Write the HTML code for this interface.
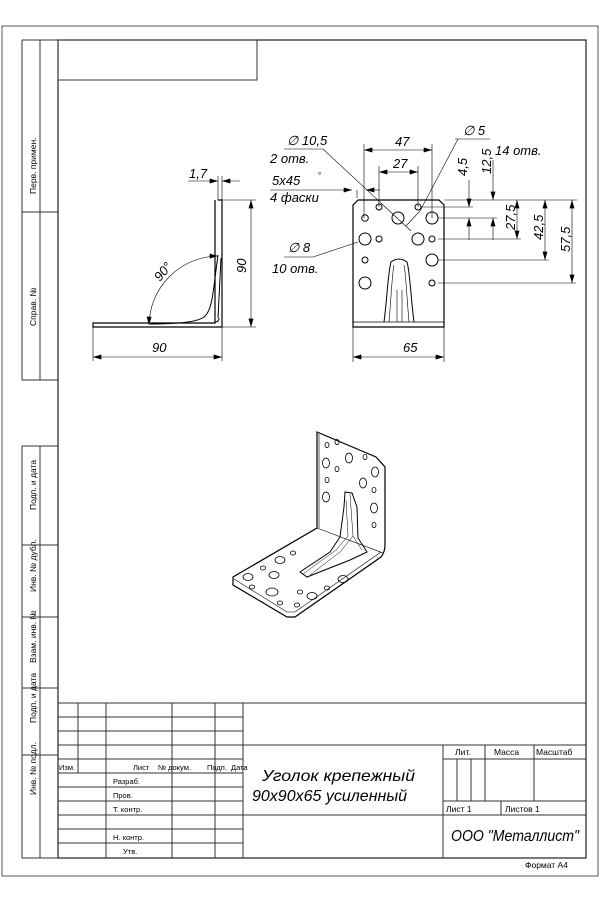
<!DOCTYPE html>
<html><head><meta charset="utf-8"><style>
html,body{margin:0;padding:0;background:#fff;width:600px;height:900px;overflow:hidden}
svg{display:block}
text{font-family:"Liberation Sans",sans-serif;fill:#000}
.d{font-style:italic;font-size:13px}
.s{font-size:7.5px}
.r{font-size:8.5px;fill:#222}
</style></head><body>
<svg width="600" height="900" viewBox="0 0 600 900" xmlns="http://www.w3.org/2000/svg">
<defs>
<marker id="a" viewBox="0 0 10 6" refX="10" refY="3" markerWidth="9" markerHeight="5" orient="auto-start-reverse" markerUnits="userSpaceOnUse"><path d="M0,0 L10,3 L0,6z" fill="#000"/></marker>
</defs>
<g fill="none" stroke="#333" stroke-width="1">
<rect x="2" y="26" width="596" height="850" stroke="#555"/>
<rect x="58" y="40" width="528" height="818" stroke-width="1.2" stroke="#222"/>
<rect x="58" y="40" width="199" height="40"/>
<path d="M22,40 V380 H58 M40,40 V380 M22,212 H58 M22,40 H58"/>
<path d="M22,446 V858 H58 M40,446 V858 M22,446 H58 M22,545 H58 M22,617 H58 M22,688 H58 M22,755 H58"/>
<path d="M58,703 H586 M58,717 H243 M58,731 H243 M58,745 H586 M58,759 H243 M58,773 H243 M58,787 H243 M58,801 H243 M58,815 H586 M58,829 H243 M58,843 H243"/>
<path d="M78,703 V773 M106,703 V858 M172,703 V858 M215,703 V858 M243,703 V858"/>
<path d="M443,745 V858 M443,759 H586 M443,801 H586 M485,745 V801 M534,745 V801 M457,759 V801 M471,759 V801 M501,801 V815"/>
</g>
<g class="r">
<text transform="translate(36,194) rotate(-90)">Перв. примен.</text>
<text transform="translate(36,326) rotate(-90)">Справ. №</text>
<text transform="translate(36,510) rotate(-90)">Подп. и дата</text>
<text transform="translate(36,592) rotate(-90)">Инв. № дубл.</text>
<text transform="translate(36,663) rotate(-90)">Взам. инв. №</text>
<text transform="translate(36,723) rotate(-90)">Подп. и дата</text>
<text transform="translate(36,795) rotate(-90)">Инв. № подл.</text>
</g>
<g class="s">
<text x="59" y="770">Изм.</text>
<text x="133" y="770">Лист</text>
<text x="158" y="770">№ докум.</text>
<text x="207" y="770">Подп.</text>
<text x="231" y="770">Дата</text>
<text x="113" y="784">Разраб.</text>
<text x="113" y="798">Пров.</text>
<text x="113" y="812">Т. контр.</text>
<text x="113" y="840">Н. контр.</text>
<text x="123" y="854">Утв.</text>
<text x="455" y="755" font-size="8.5">Лит.</text>
<text x="494" y="755" font-size="8.5">Масса</text>
<text x="536" y="755" font-size="8.5">Масштаб</text>
<text x="446" y="812" font-size="8.5">Лист 1</text>
<text x="505" y="812" font-size="8.5">Листов 1</text>
<text x="525" y="868" font-size="8.5">Формат А4</text>
</g>
<text x="262" y="781" class="d" style="font-size:16px" textLength="153" lengthAdjust="spacingAndGlyphs">Уголок крепежный</text>
<text x="252" y="801" class="d" style="font-size:16px" textLength="155" lengthAdjust="spacingAndGlyphs">90x90x65 усиленный</text>
<text x="451" y="841" class="d" style="font-size:16px" textLength="128" lengthAdjust="spacingAndGlyphs">ООО "Металлист"</text>

<g fill="none" stroke="#000" stroke-width="1">
<path d="M218,200 H222 V327 H93 V323 H215 V200" stroke-width="1.2"/>
<path d="M218,255 C213,290 213,310 204,317 C196,323 172,324 150,324"/>
<path d="M221,258 L218,318 M215,322 Q219,322 219,318"/>
<path d="M222,200 H256 M222,327 H256" stroke-width="0.6"/>
<path d="M251,200 V327" stroke-width="0.6" marker-start="url(#a)" marker-end="url(#a)"/>
<path d="M93,327 V361 M222,327 V361" stroke-width="0.6"/>
<path d="M93,357 H222" stroke-width="0.6" marker-start="url(#a)" marker-end="url(#a)"/>
<path d="M218,200 V176 M222,200 V176" stroke-width="0.6"/>
<path d="M188,181 H218" stroke-width="0.6" marker-end="url(#a)"/>
<path d="M240,181 H222" stroke-width="0.6" marker-end="url(#a)"/>
<path d="M218,256 A70,70 0 0 0 149,325" stroke-width="0.6" marker-start="url(#a)" marker-end="url(#a)"/>
</g>
<text class="d" x="189" y="178">1,7</text>
<text class="d" transform="translate(246,273) rotate(-90)">90</text>
<text class="d" x="152" y="352">90</text>
<text class="d" transform="translate(160,282) rotate(-50)">90°</text>

<g fill="none" stroke="#000" stroke-width="1">
<path d="M358,200 H439 L444,205 V327 H353 V205 Z" stroke-width="1.2"/>
<path d="M353,322 H444" stroke-width="0.7"/>
<circle cx="379" cy="207" r="3"/><circle cx="418" cy="207" r="3"/>
<circle cx="365" cy="218" r="3.3"/><circle cx="398" cy="218" r="6"/><circle cx="432" cy="218" r="6"/>
<circle cx="365" cy="239" r="6"/><circle cx="379" cy="239" r="3"/><circle cx="418" cy="239" r="6"/><circle cx="432" cy="239" r="3"/>
<circle cx="365" cy="260" r="3"/><circle cx="432" cy="260" r="6"/>
<circle cx="365" cy="283" r="6"/><circle cx="432" cy="283" r="3"/>
<path d="M384,322 C387,300 388,272 391,262 Q399,256 407,262 C410,272 411,300 414,322"/>
<path d="M389,322 C391,300 392,275 394,265 M409,322 C407,300 406,275 404,265 M397,290 V322 M402,290 V322" stroke-width="0.6"/>
<g stroke-width="0.6">
<path d="M364,218 V144 M432,218 V144 M379,207 V166 M418,207 V166"/>
<path d="M364,150 H432" marker-start="url(#a)" marker-end="url(#a)"/>
<path d="M379,172 H418" marker-start="url(#a)" marker-end="url(#a)"/>
<path d="M353,327 V362 M444,327 V362"/>
<path d="M353,357 H444" marker-start="url(#a)" marker-end="url(#a)"/>
<path d="M444,200 H577 M421,207 H473 M438,218 H497 M438,239 H521 M438,260 H549 M438,283 H576"/>
<path d="M469,180 V207" marker-end="url(#a)"/><path d="M469,240 V218" marker-end="url(#a)"/>
<path d="M493,160 V200" marker-end="url(#a)"/><path d="M493,240 V218" marker-end="url(#a)"/>
<path d="M517,200 V239" marker-start="url(#a)" marker-end="url(#a)"/>
<path d="M545,200 V260" marker-start="url(#a)" marker-end="url(#a)"/>
<path d="M572,200 V283" marker-start="url(#a)" marker-end="url(#a)"/>
<path d="M284,149 H323 L411,231"/>
<path d="M455,139 H490 M458,139 L420,211 L406,226"/>
<path d="M270,190 H352" marker-end="url(#a)"/><path d="M380,190 H366" marker-end="url(#a)"/>
<path d="M357,190 V198"/>
<path d="M284,257 H313 L358,242"/>
</g>
</g>
<text class="d" x="287" y="145">∅ 10,5</text>
<text class="d" x="270" y="163">2 отв.</text>
<text class="d" x="272" y="185">5x45</text><text x="318" y="178" font-size="8">°</text>
<text class="d" x="270" y="202">4 фаски</text>
<text class="d" x="288" y="252">∅ 8</text>
<text class="d" x="272" y="273">10 отв.</text>
<text class="d" x="463" y="135">∅ 5</text>
<text class="d" x="495" y="155">14 отв.</text>
<text class="d" x="395" y="146">47</text>
<text class="d" x="393" y="168">27</text>
<text class="d" x="403" y="352">65</text>
<text class="d" transform="translate(467,176) rotate(-90)">4,5</text>
<text class="d" transform="translate(491,174) rotate(-90)">12,5</text>
<text class="d" transform="translate(515,230) rotate(-90)">27,5</text>
<text class="d" transform="translate(543,240) rotate(-90)">42,5</text>
<text class="d" transform="translate(570,252) rotate(-90)">57,5</text>

<g fill="none" stroke="#000" stroke-width="1">
<path d="M317,432 L376,457 L385,467 V545 Q385,552 381,557 L295,617 L287,617 L233,585 L233,577 L317,528 Z" stroke-width="1.2"/>
<path d="M319,434 V528 M317,528 L383,553 M234,579 L287,612 L295,612 L381,552" stroke-width="0.6"/>
<g stroke-width="0.8">
<ellipse cx="327" cy="445" rx="2" ry="2.6"/><ellipse cx="337" cy="442" rx="2" ry="2.6"/>
<ellipse cx="326" cy="463" rx="3.5" ry="5"/><ellipse cx="349" cy="458" rx="3.5" ry="5"/>
<ellipse cx="337" cy="469" rx="2" ry="2.6"/><ellipse cx="365" cy="457" rx="2" ry="2.6"/>
<ellipse cx="375" cy="472" rx="3.5" ry="5"/><ellipse cx="327" cy="480" rx="2" ry="2.6"/>
<ellipse cx="363" cy="483" rx="3.5" ry="5"/><ellipse cx="374" cy="490" rx="2" ry="2.6"/>
<ellipse cx="326" cy="497" rx="3.5" ry="5"/><ellipse cx="374" cy="508" rx="3.5" ry="5"/>
<ellipse cx="374" cy="525" rx="2" ry="2.6"/>
<ellipse cx="280" cy="560" rx="5" ry="3.5"/><ellipse cx="293" cy="553" rx="2.6" ry="2"/>
<ellipse cx="263" cy="568" rx="2.6" ry="2"/><ellipse cx="274" cy="575" rx="5" ry="3.5"/>
<ellipse cx="248" cy="577" rx="5" ry="3.5"/><ellipse cx="252" cy="587" rx="2.6" ry="2"/>
<ellipse cx="272" cy="592" rx="6" ry="4"/><ellipse cx="280" cy="603" rx="2.6" ry="2"/>
<ellipse cx="300" cy="592" rx="2.6" ry="2"/><ellipse cx="312" cy="596" rx="5" ry="3.5"/>
<ellipse cx="297" cy="605" rx="2.6" ry="2"/><ellipse cx="327" cy="588" rx="2.6" ry="2"/>
<ellipse cx="343" cy="579" rx="5" ry="3.5"/>
</g>
<path d="M345,492 L352,493 L357,507 L358,538 L367,552 L350,560 L307,577 L300,572 L330,552 L340,537 L344,507 Z"/>
<path d="M350,494 L353,536 L362,550 M346,500 L348,536 L336,550 L303,574 M353,536 L340,552 L310,575" stroke-width="0.5"/>
</g>
</svg>
</body></html>
